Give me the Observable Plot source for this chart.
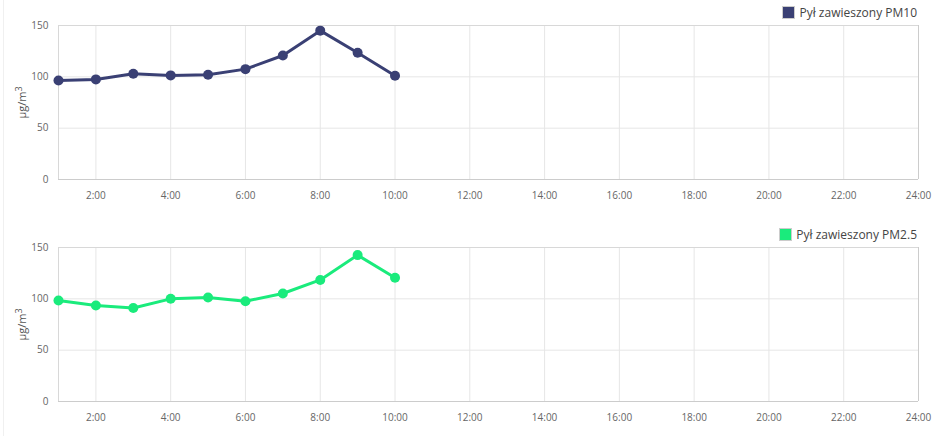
<!DOCTYPE html>
<html>
<head>
<meta charset="utf-8">
<script src="https://cdn.jsdelivr.net/npm/d3@7"></script>
<script src="https://cdn.jsdelivr.net/npm/@observablehq/plot@0.6"></script>
<style>
  html, body { margin: 0; padding: 0; background: #fff; }
  body { width: 938px; height: 436px; position: relative; overflow: hidden; font-family: "Open Sans", sans-serif; }
  .edge { position: absolute; left: 3px; top: 0; width: 1px; height: 436px; background: #f0f0f0; }
  .panel { position: absolute; left: 0; }
  .legend { position: absolute; right: 21px; font-size: 12px; color: #444; display: flex; align-items: center; gap: 4px; }
  .legend .sw { width: 11px; height: 11px; border: 1px solid #ccc; box-sizing: content-box; }
</style>
</head>
<body>
<div class="edge"></div>
<div class="legend" id="leg1" style="top:4px"><span class="sw" style="background:#3a4074"></span><span>Pył zawieszony PM10</span></div>
<div class="panel" id="p1" style="top:15px"></div>
<div class="legend" id="leg2" style="top:226px"><span class="sw" style="background:#1aeb7c"></span><span>Pył zawieszony PM2.5</span></div>
<div class="panel" id="p2" style="top:237px"></div>
<script>
const hours = [1, 2, 3, 4, 5, 6, 7, 8, 9, 10];
const pm10 = [96.5, 97.5, 103, 101.4, 102, 107.5, 120.8, 145, 123.4, 101];
const pm25 = [98.4, 93.5, 91, 100, 101.3, 97.7, 105.2, 118.4, 142.6, 120.6];
const xTicks = [2, 4, 6, 8, 10, 12, 14, 16, 18, 20, 22, 24];
const yTicks = [0, 50, 100, 150];
const yLabel = "µg/m³";

function panel(values, color) {
  const data = hours.map((h, i) => ({h, v: values[i]}));
  const svg = Plot.plot({
    width: 938,
    height: 194,
    marginLeft: 58,
    marginRight: 20,
    marginTop: 10,
    marginBottom: 30,
    style: {fontFamily: "Open Sans, sans-serif", fontSize: "10px", color: "#666", background: "transparent", overflow: "visible"},
    x: {domain: [1, 24], ticks: xTicks, tickFormat: d => `${d}:00`, tickSize: 0, tickPadding: 12, label: null},
    y: {domain: [0, 150], ticks: yTicks, tickSize: 0, tickPadding: 10, label: yLabel, labelAnchor: "center", labelArrow: "none", labelOffset: 40},
    marks: [
      Plot.gridX(xTicks.filter(t => t < 24), {stroke: "#e6e6e6", strokeOpacity: 1}),
      Plot.gridY([50, 100], {stroke: "#e6e6e6", strokeOpacity: 1}),
      Plot.ruleX([1], {stroke: "#d8d8d8"}),
      Plot.ruleX([24], {stroke: "#cccccc"}),
      Plot.ruleY([150], {stroke: "#d8d8d8"}),
      Plot.ruleY([0], {stroke: "#cccccc"}),
      Plot.line(data, {x: "h", y: "v", stroke: color, strokeWidth: 3}),
      Plot.dot(data, {x: "h", y: "v", fill: color, r: 5})
    ]
  });
  // render the unit label with a real superscript
  d3.select(svg).selectAll('g[aria-label="y-axis label"] text').each(function () {
    const t = d3.select(this);
    t.text(null).style("font-size", "11px").attr("fill", "#555");
    t.append("tspan").text("µg/m");
    t.append("tspan").attr("dy", "-0.45em").style("font-size", "9px").text("3");
  });
  return svg;
}
document.getElementById("p1").append(panel(pm10, "#3a4074"));
document.getElementById("p2").append(panel(pm25, "#1aeb7c"));
</script>
</body>
</html>
